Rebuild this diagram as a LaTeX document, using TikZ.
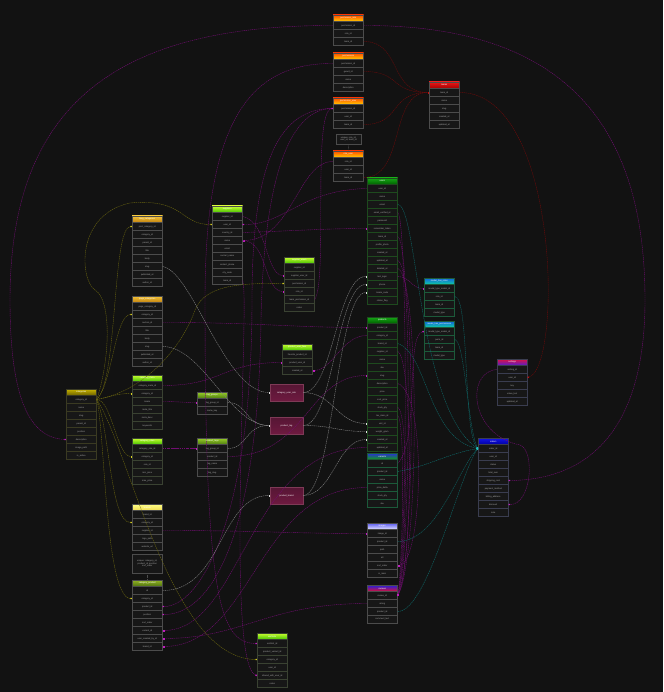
\documentclass[tikz,border=0pt]{standalone}
\usepackage{fontspec}
\setmainfont{Liberation Sans}
\usetikzlibrary{arrows.meta}
\definecolor{bg}{HTML}{121212}
\definecolor{rowbg}{HTML}{171717}
\definecolor{rowtxt}{HTML}{A8A8A8}
\definecolor{bdgray}{HTML}{4C4C4C}
\definecolor{bdgreen}{HTML}{1E4A1E}
\definecolor{bdteal}{HTML}{1C5A3A}
\definecolor{bdlime}{HTML}{3A4232}
\definecolor{bdolive}{HTML}{3A3A22}
\definecolor{bdblue}{HTML}{3A3D50}
\definecolor{mgc}{HTML}{720E72}
\definecolor{mgb}{HTML}{C020C0}
\definecolor{olc}{HTML}{6A6610}
\definecolor{olb}{HTML}{D8D020}
\definecolor{tlc}{HTML}{0E6A6A}
\definecolor{tlb}{HTML}{20C0C0}
\definecolor{rdc}{HTML}{6E0A0A}
\definecolor{rdb}{HTML}{C01010}
\definecolor{gyc}{HTML}{858585}
\definecolor{gyb}{HTML}{E0E0E0}
\definecolor{pvd}{HTML}{7E3A56}
\definecolor{pvt}{HTML}{561634}
\definecolor{pvb}{HTML}{6E1A40}
\definecolor{gthA}{HTML}{2A2AE0}
\definecolor{gthB}{HTML}{00A0A0}
\definecolor{gthC}{HTML}{10A010}
\definecolor{mhA}{HTML}{E01040}
\definecolor{mhB}{HTML}{A02080}
\definecolor{mhC}{HTML}{5020D0}
\definecolor{redA}{HTML}{E81818}
\definecolor{redB}{HTML}{A00000}
\newcommand\tf{\fontsize{2.2}{2.5}\selectfont}
\newcommand\mktab[8]{%
  \definecolor{#1top}{HTML}{#4}\definecolor{#1bot}{HTML}{#5}%
  \node[hdr, top color=#1top, bottom color=#1bot, draw=#6] (#1) at ({#2+15.25},{#3+3.25}) {#7};
  \foreach \t [count=\i] in {#8} {\node[rowbox, draw=#6] (#1-\i) at ({#2+15.25},{#3+6.5+8*\i-4}) {\t};}
}
\begin{document}
\begin{tikzpicture}[x=1pt,y=-1pt,
  hdr/.style={minimum width=30.5pt, minimum height=6.5pt, inner sep=0pt, line width=0.4pt, font=\tf, text=white},
  rowbox/.style={fill=rowbg, minimum width=30.5pt, minimum height=8pt, inner sep=0pt, line width=0.4pt, font=\tf, text=rowtxt},
  notebox/.style={fill=rowbg, draw=bdgray, line width=0.4pt, inner sep=0.6pt, font=\tf, text=rowtxt, align=center},
  pivot/.style={draw=pvd, top color=pvt, bottom color=pvb, minimum width=33pt, minimum height=17pt, inner sep=0pt, line width=0.4pt, font=\tf, text=white},
  conn/.style={line width=0.4pt, dash pattern=on 1.4pt off 0.7pt},
  mg/.style={conn, draw=mgc, -{Square[length=1.3pt,width=1.3pt,fill=mgb,color=mgb]}},
  ol/.style={conn, draw=olc, -{Square[length=1.3pt,width=1.3pt,fill=olb,color=olb]}},
  tl/.style={conn, draw=tlc, -{Square[length=1.3pt,width=1.3pt,fill=tlb,color=tlb]}},
  rd/.style={conn, draw=rdc, -{Square[length=1.3pt,width=1.3pt,fill=rdb,color=rdb]}},
  gy/.style={conn, draw=gyc, -{Square[length=1.3pt,width=1.3pt,fill=gyb,color=gyb]}},
  notetail/.style={draw=bdgray, line width=0.4pt, dash pattern=on 0.8pt off 0.6pt}
]
\fill[bg] (0,0) rectangle (663,692);
\useasboundingbox (0,0) rectangle (663,692);

% ---------- top column ----------
\mktab{T1}{333}{15}{FF4A00}{FFD000}{bdgray}{permission\_role}{permission\_id,role\_id,team\_id}
\mktab{T2}{333}{53}{FF4A00}{FFD000}{bdgray}{permissions}{permission\_id,guard\_id,name,description}
\mktab{T3}{333}{98}{FF4A00}{FFD000}{bdgray}{permission\_user}{permission\_id,user\_id,team\_id}
\node[notebox, minimum width=25pt, minimum height=10pt] (NT) at (348.5,139) {unique: role\_id,\\user\_id, team\_id};
\mktab{T4}{333}{151}{FF4A00}{FFD000}{bdgray}{role\_user}{role\_id,user\_id,team\_id}
\draw[notetail] (NT.south) -- (T4.north);
\node[hdr, top color=redA, bottom color=redB, draw=bdgray] (R1) at (444.25,85.25) {teams};
\foreach \t [count=\i] in {team\_id,name,slug,created\_at,updated\_at} {\node[rowbox, draw=bdgray] (R1-\i) at (444.25,{88.5+8*\i-4}) {\t};}

% ---------- green column ----------
\mktab{G1}{367}{178}{16A816}{006000}{bdgreen}{users}{user\_id,name,email,email\_verified\_at,password,remember\_token,team\_id,profile\_photo,created\_at,updated\_at,deleted\_at,last\_login,phone,locale\_code,status\_flag}
\mktab{G2}{367}{317}{16A816}{006000}{bdgreen}{products}{product\_id,category\_id,brand\_id,supplier\_id,name,sku,slug,description,price,cost\_price,stock\_qty,tax\_class\_id,unit\_id,weight\_gram,created\_at,updated\_at}
\node[hdr, top color=gthA, middle color=gthB, bottom color=gthC, draw=bdteal] (G3) at (382.25,456.25) {variants};
\foreach \t [count=\i] in {id,product\_id,name,price\_delta,stock\_qty,sku} {\node[rowbox, draw=bdteal] (G3-\i) at (382.25,{459.5+8*\i-4}) {\t};}
\mktab{P1}{367}{523}{5A5AF0}{E4E4FF}{bdgray}{images}{image\_id,product\_id,path,alt,sort\_order,is\_main}
\mktab{B1}{367}{585}{2020E0}{E01030}{bdgray}{reviews}{review\_id,rating,product\_id,comment\_text}

% ---------- right ----------
\mktab{C1}{424}{278}{1060E0}{10D0A0}{bdteal}{model\_has\_roles}{model\_type\_model\_id,role\_id,team\_id,model\_type}
\mktab{C2}{424}{321}{1060E0}{10D0A0}{bdteal}{model\_has\_permissions}{model\_type\_model\_id,perm\_id,team\_id,model\_type}
\node[hdr, top color=mhA, middle color=mhB, bottom color=mhC, draw=bdblue] (M1) at (512.25,362.25) {settings};
\foreach \t [count=\i] in {setting\_id,user\_id,key,value\_text,updated\_at} {\node[rowbox, draw=bdblue] (M1-\i) at (512.25,{365.5+8*\i-4}) {\t};}
\mktab{N1}{478}{438}{1414E8}{0000A0}{bdblue}{orders}{order\_id,user\_id,status,total\_sum,shipping\_cost,payment\_method,billing\_address,discount,note}

% ---------- left ----------
\mktab{L0}{66}{389}{C8B400}{6A6000}{bdolive}{categories}{category\_id,name,slug,parent\_id,position,description,image\_path,is\_active}
\mktab{A1}{132}{216}{F4C438}{C08010}{bdgray}{blog\_categories}{post\_category\_id,category\_id,parent\_id,title,body,slug,published\_at,author\_id}
\mktab{A2}{132}{296}{F4C438}{C08010}{bdgray}{page\_categories}{page\_category\_id,category\_id,section\_id,title,body,slug,published\_at,author\_id}
\mktab{E1}{132}{375}{CCFF33}{44C000}{bdlime}{category\_meta}{category\_meta\_id,category\_id,locale,meta\_title,meta\_desc,keywords}
\mktab{E2}{132}{438}{CCFF33}{44C000}{bdlime}{category\_rules}{category\_rule\_id,category\_id,rule\_id,min\_price,max\_price}
\mktab{Y1}{132}{504}{FFFF88}{F0DC50}{bdgray}{brands}{brand\_id,category\_id,supplier\_id,logo\_path,website\_url}
\node[notebox, minimum width=30pt, minimum height=19pt] (NL) at (147.25,563.5) {unique: category\_id,\\ product\_id, position\\ sort\_order};
\mktab{O1}{132}{580}{94B424}{4C7010}{bdgray}{category\_product}{id,category\_id,product\_id,position,sort\_order,variant\_id,user\_created\_by\_id,brand\_id}
\draw[notetail] (NL.south) -- (O1.north);

% ---------- middle ----------
\mktab{F1}{212}{206}{CCFF33}{44C000}{bdgray}{suppliers}{supplier\_id,user\_id,country\_id,name,email,contact\_name,contact\_phone,city\_code,team\_id}
\mktab{F2}{284}{257}{CCFF33}{44C000}{bdlime}{supplier\_users}{supplier\_id,supplier\_user\_id,permission\_id,role\_id,team\_permission\_id,notes}
\mktab{F3}{282}{344}{CCFF33}{44C000}{bdlime}{product\_user\_favs}{favorite\_product\_id,product\_user\_id,created\_at}
\mktab{D1}{197}{392}{9AD028}{4C7A10}{bdgray}{tag\_groups}{tag\_group\_id,name\_key}
\mktab{D2}{197}{438}{9AD028}{4C7A10}{bdgray}{product\_tags}{tag\_group\_id,product\_id,tag\_name,tag\_slug}
\mktab{H1}{257}{633}{CCFF33}{44C000}{bdlime}{wishlists}{wishlist\_id,product\_variant\_id,category\_id,user\_id,shared\_with\_user\_id,notes}
\node[pivot] (Ra) at (286.5,392.5) {category\_user\_role};
\node[pivot] (Rb) at (286.5,425.5) {product\_tag};
\node[pivot] (Rc) at (286.5,495.5) {product\_brand};

% ---------- dark red ----------
\draw[rd] (T1-3.east) .. controls +(38,0) and +(-40,0) .. (R1-1.west);
\draw[rd] (T2-2.east) .. controls +(38,0) and +(-40,0) .. (R1-1.west);
\draw[rd] (T3-3.east) .. controls +(38,0) and +(-40,0) .. (R1-1.west);
\draw[rd] (T4-3.east) .. controls +(42,0) and +(-40,0) .. (R1-1.west);
\draw[rd] (R1-1.east) .. controls +(100,0) and +(35,-10) .. (M1-2.east);

% ---------- magenta ----------
\draw[mg] (T1-1.west) .. controls (110,25) and (10,110) .. (10,300) .. controls (10,400) and (30,438) .. (L0-6.west);
\draw[mg] (T1-1.east) .. controls (560,25) and (645,120) .. (645,300) .. controls (645,440) and (580,480) .. (N1-5.east);
\draw[mg] (T2-1.west) .. controls (250,63) and (205,120) .. (205,300) .. controls (205,600) and (220,643) .. (H1-1.west);
\draw[mg] (T3-1.west) .. controls (280,108) and (252,160) .. (252,300) .. controls (252,520) and (200,607) .. (O1-3.east);
\draw[mg] (T3-1.west) .. controls (292,108) and (264,170) .. (261,320) .. controls (258,540) and (210,615) .. (O1-4.east);
\draw[mg] (T4-1.west) .. controls +(-35,0) and +(50,0) .. (F1-4.east);
\draw[mg] (F1-1.east) .. controls +(25,5) and +(-18,0) .. (F2-2.west);
\draw[mg] (F1-4.east) .. controls +(25,0) and +(-20,0) .. (F2-4.west);
\draw[mg] (F1-3.east) .. controls +(60,-2) and +(-40,0) .. (G1-6.west);
\draw[mg] (G1-1.west) .. controls (300,190) and (285,225) .. (F1-2.east);
\draw[mg] (F2-5.east) .. controls (328,280) and (312,110) .. (T3-1.west);
\draw[mg] (A2-3.east) .. controls +(100,0) and +(-80,0) .. (G2-1.west);
\draw[mg] (G1-4.east) .. controls +(10,5) and +(10,-40) .. (B1-1.east);
\draw[mg] (G1-7.east) .. controls +(14,5) and +(14,-40) .. (B1-1.east);
\draw[mg] (G1-10.east) .. controls +(18,5) and +(18,-40) .. (B1-1.east);
\draw[mg] (G1-11.east) .. controls +(22,5) and +(22,-40) .. (B1-1.east);
\draw[mg] (G2-4.east) .. controls +(15,5) and +(16,-30) .. (B1-1.east);
\draw[mg] (G2-8.east) .. controls +(30,10) and +(25,0) .. (P1-5.east);
\draw[mg] (G2-11.east) .. controls +(12,5) and +(8,-30) .. (B1-1.east);
\draw[mg] (G2-12.east) .. controls +(8,5) and +(5,-30) .. (B1-1.east);
\draw[mg] (G3-1.east) .. controls (420,440) and (405,335) .. (C2-1.west);
\draw[mg] (G1-12.east) .. controls +(12,0) and +(-12,0) .. (C1-1.west);
\draw[mg] (M1-1.west) .. controls (465,372) and (470,435) .. (520,445) .. controls (535,450) and (532,505) .. (N1-8.east);
\draw[mg] (E1-1.east) .. controls +(60,0) and +(-60,0) .. (F3-2.west);
\draw[mg] (E1-3.east) .. controls +(15,0) and +(-15,0) .. (D1-1.west);
\draw[mg] (E2-1.east) .. controls +(15,0) and +(-15,0) .. (D2-1.west);
\draw[mg] (D2-2.east) .. controls +(80,0) and +(-60,0) .. (G2-7.west);
\draw[mg] (G2-2.west) .. controls +(-25,0) and +(20,0) .. (F3-3.east);
\draw[mg] (Y1-3.east) .. controls +(100,0) and +(-80,0) .. (P1-1.west);
\draw[mg] (G2-16.west) .. controls +(-120,0) and +(80,0) .. (O1-6.east);
\draw[mg] (B1-2.west) .. controls +(-100,0) and +(80,0) .. (O1-7.east);
\draw[mg] (G3-4.west) .. controls +(-110,0) and +(90,0) .. (O1-8.east);
\draw[mg] (F1-9.east) .. controls (250,300) and (225,665) .. (H1-5.west);

% ---------- teal ----------
\draw[tl] (G1-3.east) .. controls +(20,0) and +(-60,-40) .. (N1-1.west);
\draw[tl] (G2-3.east) .. controls +(30,10) and +(-50,-10) .. (N1-1.west);
\draw[tl] (G3-2.east) .. controls +(30,-5) and +(-30,5) .. (N1-1.west);
\draw[tl] (P1-2.east) .. controls +(40,0) and +(-20,20) .. (N1-1.west);
\draw[tl] (B1-3.east) .. controls +(30,0) and +(-20,30) .. (N1-1.west);
\draw[tl] (C1-2.east) .. controls +(15,0) and +(-15,-15) .. (N1-1.west);
\draw[tl] (C2-2.east) .. controls +(10,0) and +(-10,-20) .. (N1-1.west);

% ---------- olive ----------
\draw[ol] (L0-1.east) .. controls (118,380) and (112,226) .. (A1-1.west);
\draw[ol] (L0-1.east) .. controls (112,385) and (115,314) .. (A2-2.west);
\draw[ol] (L0-1.east) .. controls +(15,-3) and +(-15,0) .. (E1-2.west);
\draw[ol] (L0-1.east) .. controls +(15,0) and +(-15,0) .. (E2-2.west);
\draw[ol] (L0-1.east) .. controls (110,430) and (110,523) .. (Y1-2.west);
\draw[ol] (L0-1.east) .. controls (105,430) and (105,599) .. (O1-2.west);
\draw[ol] (L0-1.east) .. controls (110,360) and (112,300) .. (95,290) .. controls (80,280) and (75,215) .. (130,203) .. controls (185,198) and (180,225) .. (F1-2.west);
\draw[ol] (L0-1.east) .. controls (150,390) and (185,340) .. (195,310) .. controls (205,285) and (240,283) .. (F2-3.west);
\draw[ol] (L0-1.east) .. controls (130,450) and (170,659) .. (H1-3.west);

% ---------- gray ----------
\draw[gy] (A1-6.east) .. controls +(30,5) and +(-45,0) .. (Ra.west);
\draw[gy] (A2-6.east) .. controls +(40,0) and +(-40,0) .. (Rb.west);
\draw[gy] (D1-1.east) .. controls +(20,0) and +(-25,0) .. (Rb.west);
\draw[gy] (D2-1.east) .. controls +(20,0) and +(-25,0) .. (Rb.west);
\draw[gy] (O1-1.east) .. controls +(60,0) and +(-50,0) .. (Rc.west);
\draw[gy] (Ra.east) .. controls +(30,0) and +(-30,0) .. (G1-12.west);
\draw[gy] (Ra.east) .. controls +(30,0) and +(-30,0) .. (G2-13.west);
\draw[gy] (Rb.east) .. controls +(30,0) and +(-30,0) .. (G1-13.west);
\draw[gy] (Rb.east) .. controls +(30,0) and +(-30,0) .. (G2-14.west);
\draw[gy] (Rc.east) .. controls +(30,0) and +(-30,0) .. (G1-14.west);
\draw[gy] (Rc.east) .. controls +(30,0) and +(-30,0) .. (G2-15.west);
\end{tikzpicture}
\end{document}
